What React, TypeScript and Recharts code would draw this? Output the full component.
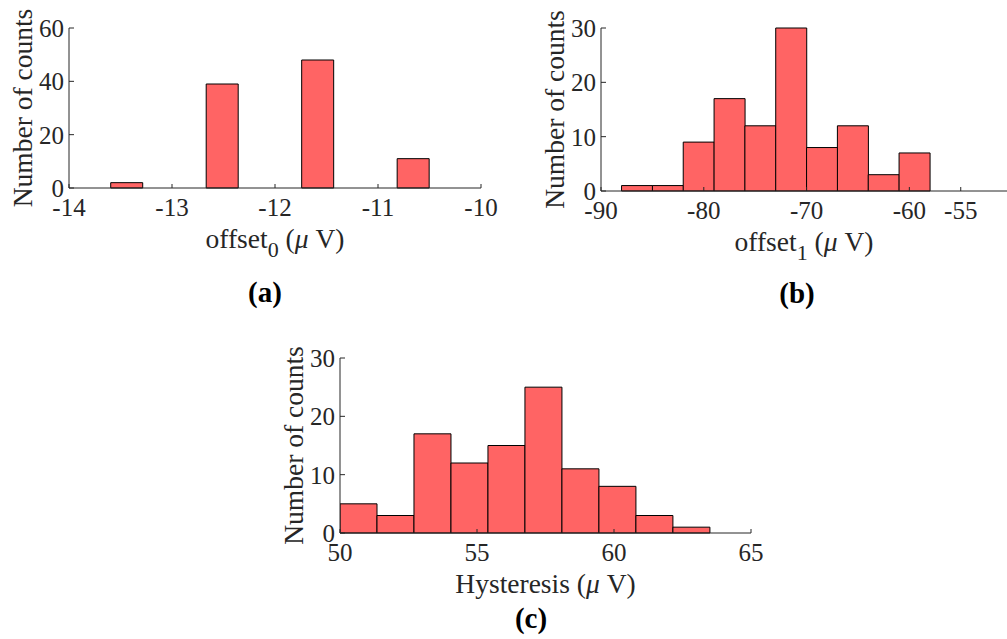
import React from "react";
import { BarChart, Bar, XAxis, YAxis, Label } from "recharts";

// (a) offset_0 histogram
const offset0Edges = [-13.595, -13.286, -12.977, -12.668, -12.359, -12.05, -11.741, -11.432, -11.123, -10.814, -10.505];
const offset0Counts = [2, 0, 0, 39, 0, 0, 48, 0, 0, 11];
const offset0XTicks = [-14, -13, -12, -11, -10];
const offset0YTicks = [0, 20, 40, 60];

// (b) offset_1 histogram
const offset1Edges = [-88, -85, -82, -79, -76, -73, -70, -67, -64, -61, -58];
const offset1Counts = [1, 1, 9, 17, 12, 30, 8, 12, 3, 7];
const offset1XTicks = [-90, -80, -70, -60, -55];
const offset1YTicks = [0, 10, 20, 30];

// (c) hysteresis histogram
const hystEdges = [50, 51.35, 52.7, 54.05, 55.4, 56.75, 58.1, 59.45, 60.8, 62.15, 63.5];
const hystCounts = [5, 3, 17, 12, 15, 25, 11, 8, 3, 1];
const hystXTicks = [50, 55, 60, 65];
const hystYTicks = [0, 10, 20, 30];

const FONT = "'Liberation Serif', 'Times New Roman', serif";
const AXIS = "#262626";
const BAR_FILL = "#ff6464";

function toRows(edges: number[], counts: number[]) {
  return counts.map((count, i) => ({
    center: (edges[i] + edges[i + 1]) / 2,
    count,
  }));
}

interface HistProps {
  left: number;
  top: number;
  width: number;
  height: number;
  margin: { top: number; right: number; bottom: number; left: number };
  edges: number[];
  counts: number[];
  xDomain: [number, number];
  xTicks: number[];
  yTicks: number[];
  xLabel: React.ReactNode;
  caption: string;
  captionX: number;
  captionY: number;
}

function Histogram({
  left,
  top,
  width,
  height,
  margin,
  edges,
  counts,
  xDomain,
  xTicks,
  yTicks,
  xLabel,
  caption,
  captionX,
  captionY,
}: HistProps) {
  const data = toRows(edges, counts);
  const tickStyle = { fontSize: 25, fill: AXIS, fontFamily: FONT };

  // x label sits below the tick labels, centred on the axis
  const renderXLabel = (props: any) => {
    const vb = props.viewBox || {};
    return (
      <text
        x={vb.x + vb.width / 2}
        y={vb.y + 60}
        textAnchor="middle"
        fontSize={27.5}
        fontFamily={FONT}
        fill={AXIS}
      >
        {xLabel}
      </text>
    );
  };

  const renderYLabel = (props: any) => {
    const vb = props.viewBox || {};
    const cx = vb.x + vb.width - 37;
    const cy = vb.y + vb.height / 2;
    return (
      <text
        x={cx}
        y={cy}
        transform={`rotate(-90, ${cx}, ${cy})`}
        textAnchor="middle"
        fontSize={27.5}
        fontFamily={FONT}
        fill={AXIS}
      >
        Number of counts
      </text>
    );
  };

  return (
    <div style={{ position: "absolute", left, top, width, height }}>
      <BarChart
        width={width}
        height={height}
        data={data}
        margin={margin}
        barCategoryGap={0}
        barGap={0}
      >
        <XAxis
          dataKey="center"
          type="number"
          domain={xDomain}
          ticks={xTicks}
          interval={0}
          allowDataOverflow
          height={70}
          tickSize={-4}
          tickMargin={14}
          axisLine={{ stroke: AXIS, strokeWidth: 1 }}
          tickLine={{ stroke: AXIS }}
          tick={tickStyle}
        >
          <Label content={renderXLabel} />
        </XAxis>
        <YAxis
          type="number"
          domain={[0, yTicks[yTicks.length - 1]]}
          ticks={yTicks}
          interval={0}
          width={50}
          tickSize={-5}
          tickMargin={10}
          axisLine={{ stroke: AXIS, strokeWidth: 1 }}
          tickLine={{ stroke: AXIS }}
          tick={tickStyle}
        >
          <Label content={renderYLabel} />
        </YAxis>
        <Bar
          dataKey="count"
          fill={BAR_FILL}
          stroke="#000"
          strokeWidth={1}
          isAnimationActive={false}
        />
      </BarChart>
      <div
        style={{
          position: "absolute",
          left: captionX - 40,
          top: captionY - 17,
          width: 80,
          textAlign: "center",
          fontFamily: FONT,
          fontWeight: "bold",
          fontSize: 29,
          lineHeight: "34px",
          color: "#000",
        }}
      >
        {caption}
      </div>
    </div>
  );
}

export default function App() {
  return (
    <div
      style={{
        position: "absolute",
        left: 0,
        top: 0,
        width: 1007,
        height: 639,
        background: "#fff",
      }}
    >
      <Histogram
        left={0}
        top={0}
        width={500}
        height={270}
        margin={{ top: 28, right: 19, bottom: 12, left: 19 }}
        edges={offset0Edges}
        counts={offset0Counts}
        xDomain={[-14, -10]}
        xTicks={offset0XTicks}
        yTicks={offset0YTicks}
        xLabel={
          <>
            offset
            <tspan dy={9} fontSize={22}>0</tspan>
            <tspan dy={-9}> (</tspan>
            <tspan fontStyle="italic">μ</tspan>
            <tspan> V)</tspan>
          </>
        }
        caption="(a)"
        captionX={265}
        captionY={292}
      />
      <Histogram
        left={530}
        top={0}
        width={477}
        height={270}
        margin={{ top: 28, right: 0, bottom: 9, left: 21 }}
        edges={offset1Edges}
        counts={offset1Counts}
        xDomain={[-90, -50.5]}
        xTicks={offset1XTicks}
        yTicks={offset1YTicks}
        xLabel={
          <>
            offset
            <tspan dy={9} fontSize={22}>1</tspan>
            <tspan dy={-9}> (</tspan>
            <tspan fontStyle="italic">μ</tspan>
            <tspan> V)</tspan>
          </>
        }
        caption="(b)"
        captionX={267}
        captionY={293}
      />
      <Histogram
        left={270}
        top={340}
        width={500}
        height={270}
        margin={{ top: 18, right: 19, bottom: 7, left: 20 }}
        edges={hystEdges}
        counts={hystCounts}
        xDomain={[50, 65]}
        xTicks={hystXTicks}
        yTicks={hystYTicks}
        xLabel={
          <>
            Hysteresis (<tspan fontStyle="italic">μ</tspan> V)
          </>
        }
        caption="(c)"
        captionX={261}
        captionY={278}
      />
    </div>
  );
}
